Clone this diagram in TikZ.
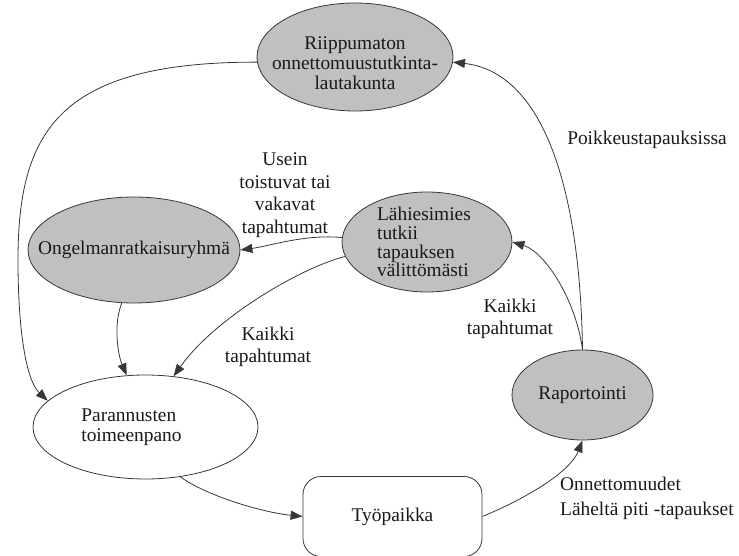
\documentclass[tikz,border=0pt]{standalone}
\usepackage{fontspec}
\setmainfont{Liberation Serif}
\usetikzlibrary{shapes.geometric,arrows.meta}
\definecolor{nodefill}{RGB}{192,192,192}
\definecolor{edgecol}{RGB}{55,55,55}
\definecolor{txtcol}{RGB}{25,25,25}
\begin{document}
\begin{tikzpicture}[x=1pt,y=-1pt,
  ell/.style={ellipse, draw=edgecol, line width=0.8pt, inner sep=0pt},
  grayell/.style={ell, fill=nodefill},
  lbl/.style={align=center, text=txtcol, inner sep=0pt, font=\fontsize{19.4}{22.5}\selectfont},
  conn/.style={draw=edgecol, line width=0.8pt, -{Triangle[length=12pt,width=9pt]}}
]
\useasboundingbox (0,0) rectangle (739,556);

% nodes
\node[grayell, minimum width=196pt, minimum height=108pt,
  label={[lbl, yshift=-6pt, font=\fontsize{19.4}{20}\selectfont]center:Riippumaton\\onnettomuustutkinta-\\lautakunta}] (riip) at (355,57) {};
\node[grayell, minimum width=212pt, minimum height=106pt,
  label={[lbl]center:Ongelmanratkaisuryhmä}] (ongel) at (134,250) {};
\node[grayell, minimum width=170pt, minimum height=100pt,
  label={[lbl, align=left, xshift=-3pt, font=\fontsize{19.4}{18.8}\selectfont]center:Lähiesimies\\tutkii\\tapauksen\\välittömästi}] (lahi) at (427,242) {};
\node[ell, fill=white, minimum width=225pt, minimum height=104pt,
  label={[lbl, align=left, xshift=-14pt, font=\fontsize{19.4}{20.5}\selectfont]center:Parannusten\\toimeenpano}] (paran) at (145.5,427) {};
\node[grayell, minimum width=141pt, minimum height=90pt,
  label={[lbl]center:Raportointi}] (rap) at (582.5,395) {};
\node[draw=edgecol, line width=0.8pt, rounded corners=18pt, minimum width=179pt, minimum height=80pt,
  text=txtcol, font=\fontsize{19.4}{22.5}\selectfont] (tyo) at (392.5,516.5) {Työpaikka};

% edge labels
\node[lbl] (lpoik) at (647,140) {Poikkeustapauksissa};
\node[lbl] (lusein) at (285,195) {Usein\\toistuvat tai\\vakavat\\tapahtumat};
\node[lbl] (lkaikkiL) at (268,347) {Kaikki\\tapahtumat};
\node[lbl] (lkaikkiR) at (510,319) {Kaikki\\tapahtumat};
\node[lbl, align=left, anchor=west, font=\fontsize{19.4}{25}\selectfont] (lonn) at (560,498) {Onnettomuudet\\Läheltä piti -tapaukset};

% connectors
\draw[conn] (rap.north) .. controls (580,180) and (540,72) .. (riip.-3);
\draw[conn] (rap.north) .. controls (576,300) and (545,252) .. (lahi.east);
\draw[conn] (riip.183) .. controls (60,62) and (18,130) .. (18,260)
            .. controls (18,330) and (26,380) .. (paran.165);
\draw[conn] (lahi.177) .. controls (305,234) and (270,246) .. (ongel.east);
\draw[conn] (lahi.190) .. controls (300,268) and (215,318) .. (paran.61);
\draw[conn] (ongel.257) .. controls (113,325) and (118,355) .. (paran.110);
\draw[conn] (paran.-55) .. controls (205,495) and (260,512) .. (tyo.west);
\draw[conn] (tyo.east) .. controls (527,498) and (570,472) .. (rap.south);
\end{tikzpicture}
\end{document}
